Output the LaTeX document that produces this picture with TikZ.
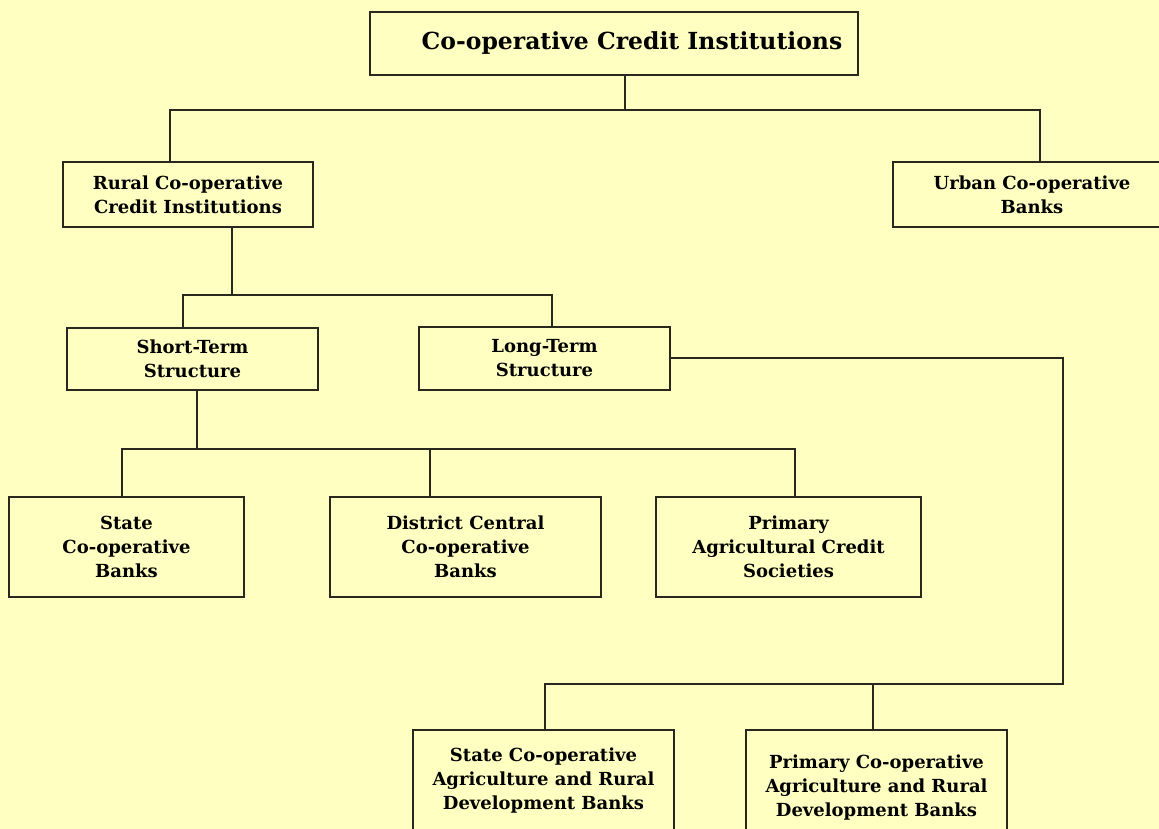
\documentclass[tikz,border=0pt]{standalone}
\usepackage{fontspec}
\setmainfont{DejaVu Serif}
\definecolor{bg}{RGB}{255,255,194}
\definecolor{edge}{RGB}{40,40,30}
\begin{document}
\begin{tikzpicture}[x=1pt,y=-1pt,
  box/.style={draw=edge, line width=1.3pt, fill=bg, align=center, inner sep=0pt,
    font=\fontsize{18}{24}\selectfont\bfseries},
  conn/.style={draw=edge, line width=1.3pt}]
\fill[bg] (0,0) rectangle (1159,829);
\useasboundingbox (0,0) rectangle (1159,829);
% nodes
\node[box, minimum width=488, minimum height=63,
  label={[xshift=18pt, font=\fontsize{23.5}{28}\selectfont\bfseries]center:Co-operative Credit Institutions}]
  (top) at (614,43.5) {};
\node[box, minimum width=250, minimum height=65] (rural) at (188,194.5) {Rural Co-operative\\Credit Institutions};
\node[box, minimum width=278, minimum height=65] (urban) at (1032,194.5) {Urban Co-operative\\Banks};
\node[box, minimum width=251, minimum height=62] (short) at (192.5,359) {Short-Term\\Structure};
\node[box, minimum width=251, minimum height=63] (long) at (544.5,358.5) {Long-Term\\Structure};
\node[box, minimum width=235, minimum height=100] (state) at (126.5,547) {State\\Co-operative\\Banks};
\node[box, minimum width=271, minimum height=100] (dccb) at (465.5,547) {District Central\\Co-operative\\Banks};
\node[box, minimum width=265, minimum height=100] (pacs) at (788.5,547) {Primary\\Agricultural Credit\\Societies};
\node[box, minimum width=261, minimum height=102] (sc) at (543.5,781) {State Co-operative\\Agriculture and Rural\\Development Banks};
\node[box, minimum width=261, minimum height=116] (pc) at (876.5,788) {Primary Co-operative\\Agriculture and Rural\\Development Banks};
% junctions
\coordinate (j1) at (625,110);
\coordinate (j2) at (232,295);
\coordinate (j3) at (197,449);
\coordinate (j4) at (1063,684);
% connectors
\draw[conn] (top.south -| j1) -- (j1);
\draw[conn] ([xshift=-18pt]rural.north) |- (j1) -| ([xshift=8pt]urban.north);
\draw[conn] (rural.south -| j2) -- (j2);
\draw[conn] ([xshift=-9.5pt]short.north) |- (j2) -| ([xshift=7.5pt]long.north);
\draw[conn] (short.south -| j3) -- (j3);
\draw[conn] ([xshift=-4.5pt]state.north) |- (j3) -| ([xshift=6.5pt]pacs.north);
\draw[conn] ([xshift=-35.5pt]dccb.north) -- ([xshift=-35.5pt]dccb.north |- j3);
\draw[conn] ([yshift=0.5pt]long.east) -| (j4) -| ([xshift=1.5pt]sc.north);
\draw[conn] ([xshift=-3.5pt]pc.north) -- ([xshift=-3.5pt]pc.north |- j4);
\end{tikzpicture}
\end{document}
